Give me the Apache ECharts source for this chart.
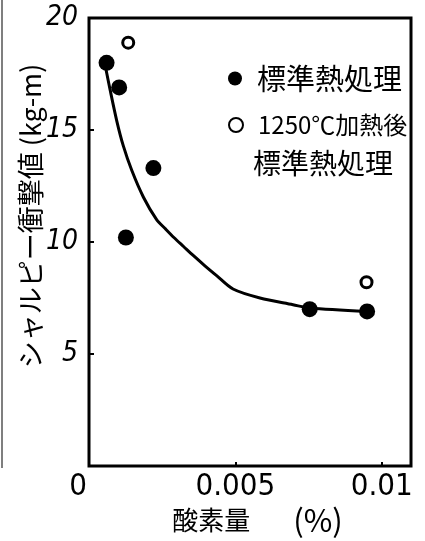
<!DOCTYPE html>
<html>
<head>
<meta charset="utf-8">
<script src="https://cdn.jsdelivr.net/npm/echarts@6/dist/echarts.min.js"></script>
<style>
html, body { margin: 0; padding: 0; background: #fff; }
#chart { width: 425px; height: 541px; }
</style>
</head>
<body>
<div id="chart"></div>
<script>
// Oxygen content (%) vs Charpy impact value (kg-m)
var standardName = '標準熱処理';
var reheatName = '1250℃加熱後標準熱処理';
var yAxisTitle = 'シャルピー衝撃値 (kg-m)';

var standardX = [0.0006, 0.00103, 0.00126, 0.0022, 0.00754, 0.0095];
var standardY = [18.0, 16.9, 10.2, 13.3, 7.0, 6.9];

var reheatX = [0.00134, 0.00948];
var reheatY = [18.9, 8.2];

// hand drawn trend curve
var curveX = [0.00055, 0.00072, 0.00095, 0.00117, 0.00146, 0.00186, 0.00231, 0.0026, 0.0029, 0.00323, 0.00356, 0.00395, 0.00436, 0.00492, 0.00584, 0.00697, 0.00754, 0.00948];
var curveY = [17.9, 16.8, 15.4, 14.3, 13.2, 12.0, 11.0, 10.6, 10.2, 9.8, 9.4, 8.95, 8.5, 7.9, 7.5, 7.2, 7.05, 6.9];

var xTicks = [0, 0.005, 0.01];
var xTickLabels = ['0', '0.005', '0.01'];

var jpFont = '"Noto Sans CJK JP", sans-serif';
var numFont = '"Liberation Sans Narrow", "DejaVu Sans Condensed", "Liberation Sans", sans-serif';

function zip(xs, ys) {
    return xs.map(function (x, i) { return [x, ys[i]]; });
}

var chart = echarts.init(document.getElementById('chart'));

chart.setOption({
    backgroundColor: '#fff',
    animation: false,
    grid: {
        left: 89,
        right: 14,
        top: 18,
        bottom: 69,
        show: true,
        borderColor: '#000',
        borderWidth: 3,
        backgroundColor: 'transparent'
    },
    xAxis: {
        type: 'value',
        min: 0,
        max: 0.011,
        interval: 0.005,
        splitLine: { show: false },
        axisLine: { show: false },
        axisTick: { show: true, inside: true, length: 4, lineStyle: { color: '#000', width: 2 } },
        axisLabel: {
            showMaxLabel: false,
            margin: 5,
            color: '#000',
            fontFamily: numFont,
            fontSize: 31,
            formatter: function (v) {
                var i = xTicks.findIndex(function (t) { return Math.abs(t - v) < 1e-9; });
                if (i === 0) return '{z|' + xTickLabels[0] + '}';
                return i > 0 ? xTickLabels[i] : '';
            },
            rich: {
                z: { fontFamily: numFont, fontSize: 31, color: '#000', padding: [0, 22, 0, 0] }
            }
        },
        name: '{a|酸素量}{g|}{b|(%)}',
        nameLocation: 'middle',
        nameGap: 39,
        nameMoveOverlap: false,
        nameTextStyle: {
            color: '#000',
            fontFamily: jpFont,
            padding: [0, 0, 0, 15],
            rich: {
                a: { fontFamily: jpFont, fontSize: 26, color: '#000' },
                g: { width: 43 },
                b: { fontFamily: jpFont, fontSize: 31, color: '#000' }
            }
        }
    },
    yAxis: {
        type: 'value',
        min: 0,
        max: 20,
        interval: 5,
        splitLine: { show: false },
        axisLine: { show: false },
        axisTick: { show: true, inside: true, length: 5, lineStyle: { color: '#000', width: 2 } },
        axisLabel: {
            showMinLabel: false,
            margin: 11,
            color: '#000',
            fontFamily: numFont,
            fontStyle: 'italic',
            fontSize: 28
        }
    },
    legend: [
        {
            left: 228,
            top: 64,
            padding: 0,
            itemWidth: 14,
            itemHeight: 14,
            selectedMode: false,
            data: [{ name: standardName, icon: 'circle' }],
            textStyle: {
                color: '#000',
                fontFamily: jpFont,
                fontSize: 29,
                padding: [0, 0, 0, 10]
            }
        },
        {
            left: 228,
            top: 113,
            padding: 0,
            itemWidth: 14,
            itemHeight: 14,
            selectedMode: false,
            data: [{ name: reheatName, icon: 'circle' }],
            formatter: function () {
                return '{a|1250℃加熱後}\n{b|標準熱処理}';
            },
            textStyle: {
                color: '#000',
                fontFamily: jpFont,
                padding: [38, 0, 0, 10],
                rich: {
                    a: { fontFamily: jpFont, fontSize: 24, lineHeight: 38, color: '#000' },
                    b: { fontFamily: jpFont, fontSize: 28, lineHeight: 38, color: '#000', padding: [0, 0, 0, -5] }
                }
            }
        }
    ],
    series: [
        {
            name: 'curve',
            type: 'line',
            data: zip(curveX, curveY),
            smooth: 0.3,
            symbol: 'none',
            silent: true,
            lineStyle: { color: '#000', width: 3 },
            z: 1
        },
        {
            name: standardName,
            type: 'scatter',
            data: zip(standardX, standardY),
            symbol: 'circle',
            symbolSize: 16,
            itemStyle: { color: '#000', opacity: 1 },
            z: 3
        },
        {
            name: reheatName,
            type: 'scatter',
            data: zip(reheatX, reheatY),
            symbol: 'circle',
            symbolSize: 11,
            itemStyle: { color: '#fff', borderColor: '#000', borderWidth: 3, opacity: 1 },
            z: 3
        }
    ],
    graphic: [
        {
            // y axis title, sits a bit above the axis middle like the original
            type: 'text',
            x: 31,
            y: 216,
            rotation: Math.PI / 2,
            style: {
                text: yAxisTitle,
                fontFamily: jpFont,
                fontSize: 27,
                fill: '#000',
                align: 'center',
                verticalAlign: 'middle'
            },
            silent: true
        },
        {
            // scan edge along the left side
            type: 'line',
            shape: { x1: 2, y1: 0, x2: 2, y2: 468 },
            style: { stroke: '#555', lineWidth: 1.5 },
            silent: true
        }
    ]
});
</script>
</body>
</html>
